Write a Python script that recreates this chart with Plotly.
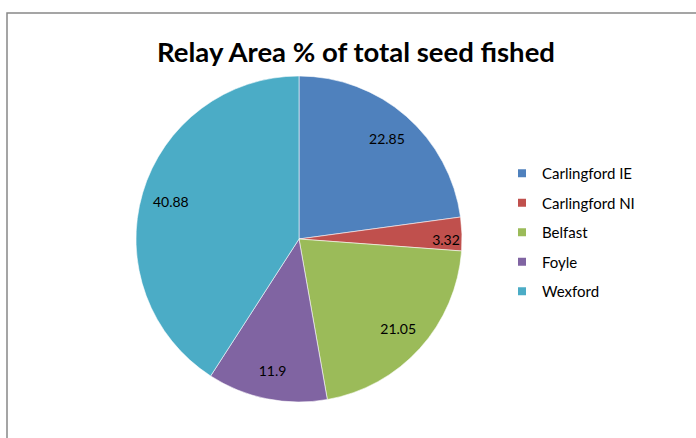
import plotly.graph_objects as go

labels = ["Carlingford IE", "Carlingford NI", "Belfast", "Foyle", "Wexford"]
values = [22.85, 3.32, 21.05, 11.9, 40.88]
colors = ["#4F81BD", "#C0504D", "#9BBB59", "#8064A2", "#4BACC6"]
title_text = "Relay Area % of total seed fished"

W, H = 696, 438
FONT = "Lato, Carlito, sans-serif"
dom = dict(x=[136 / W, 462 / W], y=[1 - 402 / H, 1 - 76 / H])

fig = go.Figure()

# the pie itself
fig.add_trace(go.Pie(
    labels=labels, values=values, sort=False, direction="clockwise", rotation=0,
    marker=dict(colors=colors, line=dict(color="rgba(255,255,255,0.7)", width=0.8)),
    textinfo="none", showlegend=False, domain=dom, hoverinfo="label+value",
))

# transparent ring carrying the data labels near the outer edge
fig.add_trace(go.Pie(
    labels=labels, values=values, sort=False, direction="clockwise", rotation=0,
    hole=0.64,
    marker=dict(colors=["rgba(0,0,0,0)"] * len(values), line=dict(width=0)),
    text=[str(v) for v in values], textinfo="text", textposition="inside",
    insidetextorientation="horizontal",
    textfont=dict(family=FONT, size=14, color="#000000"),
    showlegend=False, domain=dom, hoverinfo="skip",
))

# legend entries
for lab, col in zip(labels, colors):
    fig.add_trace(go.Scatter(
        x=[None], y=[None], mode="markers", name=lab, legendgroup=lab,
        marker=dict(symbol="square", size=8, color=col), hoverinfo="skip",
    ))

fig.update_layout(
    width=W, height=H,
    margin=dict(l=0, r=0, t=0, b=0),
    paper_bgcolor="white",
    plot_bgcolor="rgba(0,0,0,0)",
    xaxis=dict(visible=False), yaxis=dict(visible=False),
    title=dict(text="<b>" + title_text + "</b>", x=356 / W, xanchor="center",
               y=1 - 52 / H, yanchor="middle",
               font=dict(family=FONT, size=27.5, color="#000000")),
    legend=dict(x=502 / W, y=1 - 157 / H, xanchor="left", yanchor="top",
                font=dict(family=FONT, size=15, color="#000000"),
                itemwidth=30, tracegroupgap=7, bgcolor="rgba(0,0,0,0)"),
    shapes=[dict(type="rect", xref="paper", yref="paper",
                 x0=7 / W, x1=1.05, y0=-0.05, y1=1 - 13 / H,
                 line=dict(color="#888888", width=1.5), fillcolor="rgba(0,0,0,0)")],
    hovermode=False,
)

fig.write_html("out.html", config={"displayModeBar": False},
               post_script="document.body.style.margin='0px';")
